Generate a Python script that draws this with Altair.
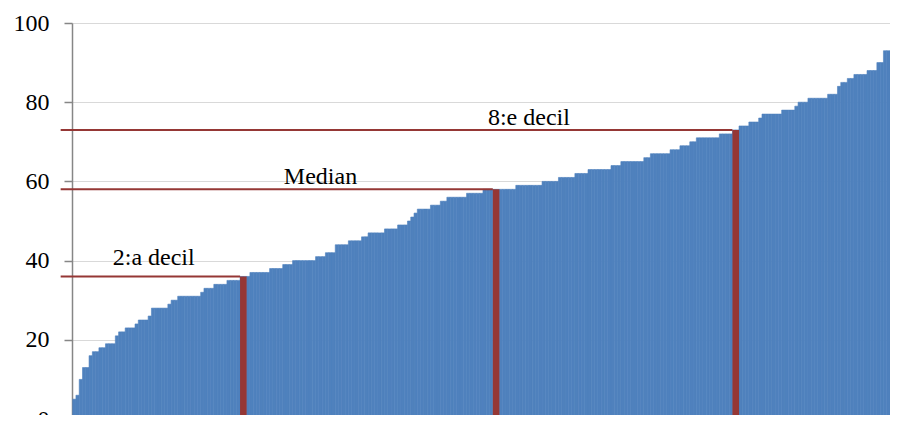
import altair as alt
import pandas as pd

# Sorted observation values, stored as runs of equal bars (value, number of bars)
run_values = [5, 6, 10, 13, 16, 17, 18, 19, 21, 22, 23, 24, 25, 26, 28, 29, 30, 31, 32, 33, 34, 35,
              36, 37, 38, 39, 40, 41, 42, 44, 45, 46, 47, 48, 49, 50, 51, 52, 53, 54, 55, 56, 57, 58,
              59, 60, 61, 62, 63, 64, 65, 66, 67, 68, 69, 70, 71, 72,
              73, 74, 75, 76, 77, 78, 79, 80, 81, 82,
              84, 85, 86, 87, 88, 90, 93]
run_counts = [1, 1, 1, 2, 1, 2, 2, 3, 1, 2, 3, 1, 3, 1, 5, 1, 2, 7, 1, 3, 4, 4,
              3, 6, 4, 3, 7, 3, 3, 4, 4, 2, 5, 4, 3, 1, 1, 1, 4, 3, 2, 6, 5, 10,
              8, 5, 5, 4, 7, 3, 7, 2, 6, 3, 3, 2, 7, 4,
              2, 3, 3, 1, 6, 4, 1, 3, 6, 3,
              1, 2, 2, 4, 3, 2, 2]

# Highlighted percentile bars
decile_labels = ["2:a decil", "Median", "8:e decil"]
decile_index = [51, 128, 201]
decile_values = [36, 58, 73]
# Annotation anchors (bar index, value)
label_index = [24.7, 75.5, 139]
label_values = [38.9, 59.3, 74.2]

y_ticks = [0, 20, 40, 60, 80, 100]

BLUE = "#4F81BD"
RED = "#953735"
FONT = "'Times New Roman', 'Liberation Serif', Times, serif"

values = []
for v, c in zip(run_values, run_counts):
    values.extend([v] * c)
n_bars = len(values)
bars = pd.DataFrame({"i": list(range(n_bars)), "value": values})
bars["i2"] = bars["i"] + 1
bars["base"] = 0

dec = pd.DataFrame({"label": decile_labels, "pos": decile_index, "value": decile_values,
                    "lx": label_index, "ly": label_values})
dec["pos2"] = dec["pos"] + 2
dec["start"] = 0
dec["base"] = 0

xscale = alt.Scale(domain=[-0.2, n_bars], nice=False, zero=False)
yscale = alt.Scale(domain=[0, 100], nice=False)

base_bars = alt.Chart(bars).mark_bar(color=BLUE, stroke=BLUE, strokeWidth=0.6).encode(
    x=alt.X("i:Q", scale=xscale,
            axis=alt.Axis(labels=False, ticks=False, grid=False, title=None,
                          domainColor="#868686", domainWidth=1.5)),
    x2="i2:Q",
    y=alt.Y("value:Q", scale=yscale,
            axis=alt.Axis(values=y_ticks, title=None, labelFont=FONT, labelFontSize=24,
                          labelColor="black", tickSize=8, tickColor="#868686", tickWidth=1.5,
                          domainColor="#868686", domainWidth=1.5, labelPadding=15,
                          gridColor="#d9d9d9", gridWidth=1.2)),
    y2="base:Q",
)

red_bars = alt.Chart(dec).mark_bar(color=RED).encode(
    x=alt.X("pos:Q", scale=xscale),
    x2="pos2:Q",
    y=alt.Y("value:Q", scale=yscale),
    y2="base:Q",
)

lines = alt.Chart(dec).mark_rule(color=RED, strokeWidth=2, xOffset=-12).encode(
    x=alt.X("start:Q", scale=xscale),
    x2="pos:Q",
    y=alt.Y("value:Q", scale=yscale),
)

texts = alt.Chart(dec).mark_text(font=FONT, fontSize=24, baseline="alphabetic",
                                 align="center", color="black").encode(
    x=alt.X("lx:Q", scale=xscale),
    y=alt.Y("ly:Q", scale=yscale),
    text="label:N",
)

chart = alt.layer(base_bars, red_bars, lines, texts).properties(
    width=818, height=396,
    autosize=alt.AutoSizeParams(type="none"),
    padding={"left": 64, "top": 15, "right": 0, "bottom": -4},
).configure_view(stroke=None).configure(background="white")

chart.save("out.html", embed_options={"renderer": "svg", "actions": False})
